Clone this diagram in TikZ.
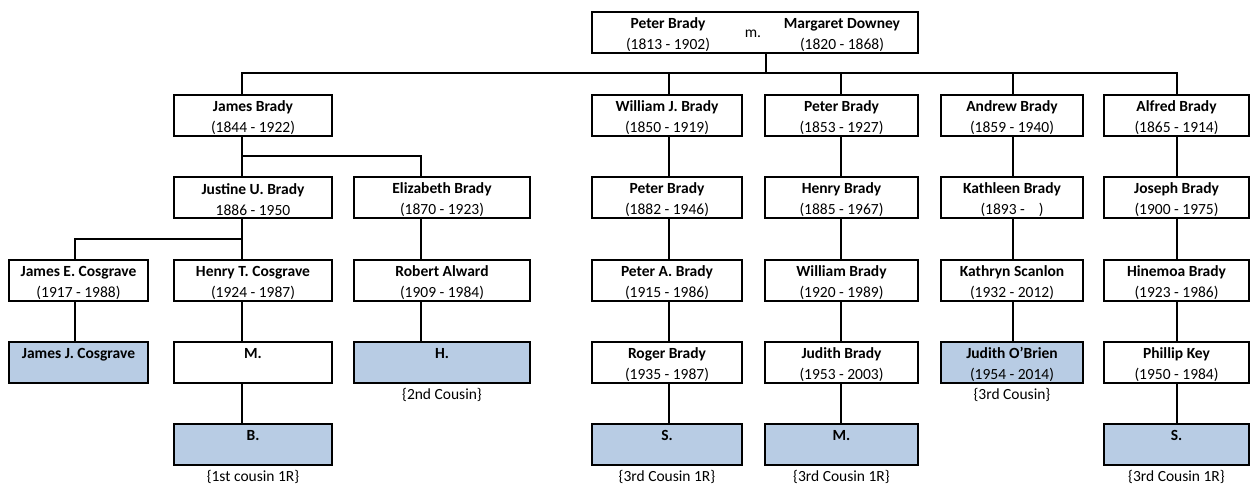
\documentclass[tikz,border=0pt]{standalone}
\usepackage{fontspec}
\setmainfont{Carlito}
\definecolor{hlblue}{RGB}{184,204,228}
\newcommand{\fsz}{\fontsize{15.5}{21}\selectfont}
\newcommand{\nm}[1]{\rule{0pt}{15.8pt}\textbf{#1}}
\newcommand{\nodate}{\phantom{(1844 - 1922)}}
\begin{document}
\begin{tikzpicture}[x=1pt,y=-1pt,
  box/.style={draw=black, line width=2pt, minimum height=41pt, inner sep=0pt, align=center, font=\fsz},
  hl/.style={box, fill=hlblue},
  txt/.style={inner sep=0pt, align=center, font=\fsz},
  conn/.style={draw=black, line width=2pt}]
\fill[white] (0,0) rectangle (1250,485);
\useasboundingbox (0,0) rectangle (1250,485);
% column line positions
\coordinate (xA) at (75,0);
\coordinate (xB) at (242,0);
\coordinate (xC) at (421,0);
\coordinate (xD) at (669,0);
\coordinate (xE) at (841,0);
\coordinate (xF) at (1013,0);
\coordinate (xG) at (1177,0);
\coordinate (xT) at (766,0);
\coordinate (b1) at (0,73);
\coordinate (b2) at (0,156);
\coordinate (b3) at (0,239);
% top couple
\node[box, minimum width=326pt] (top) at (755,32.5) {};
\node[txt] (pb0) at (668,32.5) {\nm{Peter Brady}\\(1813 - 1902)};
\node[txt] (mm) at (753,34) {m.};
\node[txt] (md) at (842,32.5) {\nm{Margaret Downey}\\(1820 - 1868)};
% row 1
\node[box, minimum width=158pt] (jb) at (253,115.5) {\nm{James Brady}\\(1844 - 1922)};
\node[box, minimum width=150pt] (wjb) at (667,115.5) {\nm{William J. Brady}\\(1850 - 1919)};
\node[box, minimum width=153pt] (pb1) at (841.5,115.5) {\nm{Peter Brady}\\(1853 - 1927)};
\node[box, minimum width=142pt] (ab) at (1012,115.5) {\nm{Andrew Brady}\\(1859 - 1940)};
\node[box, minimum width=145pt] (alb) at (1176.5,115.5) {\nm{Alfred Brady}\\(1865 - 1914)};
% row 2
\node[box, minimum width=158pt] (jub) at (253,197.5) {\nm{Justine U. Brady}\\1886 - 1950};
\node[box, minimum width=176pt] (eb) at (442,197.5) {\nm{Elizabeth Brady}\\(1870 - 1923)};
\node[box, minimum width=150pt] (pb2) at (667,197.5) {\nm{Peter Brady}\\(1882 - 1946)};
\node[box, minimum width=153pt] (hb) at (841.5,197.5) {\nm{Henry Brady}\\(1885 - 1967)};
\node[box, minimum width=142pt] (kb) at (1012,197.5) {\nm{Kathleen Brady}\\(1893 -\hspace{0.9em})};
\node[box, minimum width=145pt] (job) at (1176.5,197.5) {\nm{Joseph Brady}\\(1900 - 1975)};
% row 3
\node[box, minimum width=139pt] (jec) at (78.5,280) {\nm{James E. Cosgrave}\\(1917 - 1988)};
\node[box, minimum width=158pt] (htc) at (253,280) {\nm{Henry T. Cosgrave}\\(1924 - 1987)};
\node[box, minimum width=176pt] (ra) at (442,280) {\nm{Robert Alward}\\(1909 - 1984)};
\node[box, minimum width=150pt] (pab) at (667,280) {\nm{Peter A. Brady}\\(1915 - 1986)};
\node[box, minimum width=153pt] (wb) at (841.5,280) {\nm{William Brady}\\(1920 - 1989)};
\node[box, minimum width=142pt] (ks) at (1012,280) {\nm{Kathryn Scanlon}\\(1932 - 2012)};
\node[box, minimum width=145pt] (hib) at (1176.5,280) {\nm{Hinemoa Brady}\\(1923 - 1986)};
% row 4
\node[hl, minimum width=139pt] (jjc) at (78.5,362.5) {\nm{James J. Cosgrave}\\\nodate};
\node[box, minimum width=158pt] (m1) at (253,362.5) {\nm{M.}\\\nodate};
\node[hl, minimum width=176pt] (h1) at (442,362.5) {\nm{H.}\\\nodate};
\node[box, minimum width=150pt] (rb) at (667,362.5) {\nm{Roger Brady}\\(1935 - 1987)};
\node[box, minimum width=153pt] (jdb) at (841.5,362.5) {\nm{Judith Brady}\\(1953 - 2003)};
\node[hl, minimum width=142pt] (jo) at (1012,362.5) {\nm{Judith O'Brien}\\(1954 - 2014)};
\node[box, minimum width=145pt] (pk) at (1176.5,362.5) {\nm{Phillip Key}\\(1950 - 1984)};
% row 5
\node[hl, minimum width=158pt] (b5) at (253,444.5) {\nm{B.}\\\nodate};
\node[hl, minimum width=150pt] (s5a) at (667,444.5) {\nm{S.}\\\nodate};
\node[hl, minimum width=153pt] (m5) at (841.5,444.5) {\nm{M.}\\\nodate};
\node[hl, minimum width=145pt] (s5b) at (1176.5,444.5) {\nm{S.}\\\nodate};
% labels
\node[txt] (l2c) at (442,395) {\{2nd Cousin\}};
\node[txt] (l3c) at (1012,395) {\{3rd Cousin\}};
\node[txt] (l1c) at (253,477) {\{1st cousin 1R\}};
\node[txt] (l3a) at (667,477) {\{3rd Cousin 1R\}};
\node[txt] (l3b) at (841.5,477) {\{3rd Cousin 1R\}};
\node[txt] (l3d) at (1176.5,477) {\{3rd Cousin 1R\}};
% connectors
\draw[conn] (top.south -| xT) -- (xT |- b1);
\draw[conn] (jb.north -| xB) -- (xB |- b1) -- (xG |- b1) -- (alb.north -| xG);
\draw[conn] (xD |- b1) -- (wjb.north -| xD);
\draw[conn] (xE |- b1) -- (pb1.north -| xE);
\draw[conn] (xF |- b1) -- (ab.north -| xF);
\draw[conn] (jb.south -| xB) -- (jub.north -| xB);
\draw[conn] (xB |- b2) -- (xC |- b2) -- (eb.north -| xC);
\draw[conn] (jub.south -| xB) -- (htc.north -| xB);
\draw[conn] (xB |- b3) -- (xA |- b3) -- (jec.north -| xA);
\draw[conn] (eb.south -| xC) -- (ra.north -| xC);
\draw[conn] (wjb.south -| xD) -- (pb2.north -| xD);
\draw[conn] (pb1.south -| xE) -- (hb.north -| xE);
\draw[conn] (ab.south -| xF) -- (kb.north -| xF);
\draw[conn] (alb.south -| xG) -- (job.north -| xG);
\draw[conn] (pb2.south -| xD) -- (pab.north -| xD);
\draw[conn] (hb.south -| xE) -- (wb.north -| xE);
\draw[conn] (kb.south -| xF) -- (ks.north -| xF);
\draw[conn] (job.south -| xG) -- (hib.north -| xG);
\draw[conn] (jec.south -| xA) -- (jjc.north -| xA);
\draw[conn] (htc.south -| xB) -- (m1.north -| xB);
\draw[conn] (ra.south -| xC) -- (h1.north -| xC);
\draw[conn] (pab.south -| xD) -- (rb.north -| xD);
\draw[conn] (wb.south -| xE) -- (jdb.north -| xE);
\draw[conn] (ks.south -| xF) -- (jo.north -| xF);
\draw[conn] (hib.south -| xG) -- (pk.north -| xG);
\draw[conn] (m1.south -| xB) -- (b5.north -| xB);
\draw[conn] (rb.south -| xD) -- (s5a.north -| xD);
\draw[conn] (jdb.south -| xE) -- (m5.north -| xE);
\draw[conn] (pk.south -| xG) -- (s5b.north -| xG);
\end{tikzpicture}
\end{document}
